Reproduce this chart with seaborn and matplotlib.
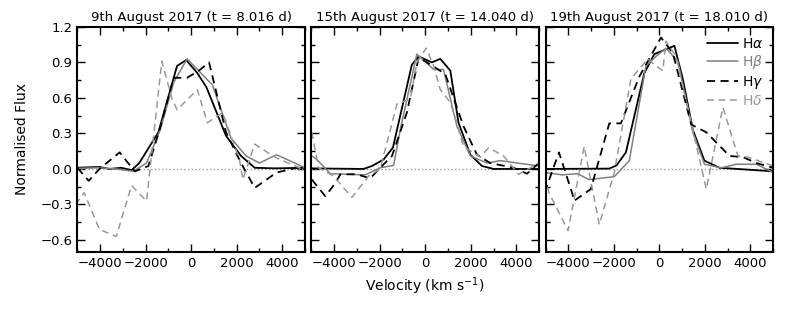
import numpy as np
import pandas as pd
import seaborn as sns
import matplotlib
matplotlib.use('Agg')
import matplotlib.pyplot as plt
from matplotlib.ticker import MultipleLocator

sns.set_style('ticks')
plt.rcParams['font.family'] = ['DejaVu Sans']
plt.rcParams['mathtext.fontset'] = 'dejavusans'
plt.rcParams['text.color'] = 'black'
plt.rcParams['axes.labelcolor'] = 'black'
plt.rcParams['xtick.color'] = 'black'
plt.rcParams['ytick.color'] = 'black'
plt.rcParams['axes.edgecolor'] = 'black'

titles = ['9th August 2017 (t = 8.016 d)',
          '15th August 2017 (t = 14.040 d)',
          '19th August 2017 (t = 18.010 d)']
lines = ['H$\\alpha$', 'H$\\beta$', 'H$\\gamma$', 'H$\\delta$']

# panel 1 : 9th August
p1_ha_v = [-5070, -4030, -3585, -3070, -2620, -2280, -1440, -620, -220, 270, 670, 1530, 2190, 2790, 3670, 5000]
p1_ha_f = [0.01, 0.017, 0.0, 0.01, -0.01, 0.05, 0.31, 0.87, 0.92, 0.81, 0.69, 0.28, 0.11, 0.01, 0.005, 0.01]
p1_hb_v = [-5070, -4030, -3290, -2550, -1960, -1360, -770, -180, 930, 1750, 2410, 3000, 3750, 5000]
p1_hb_f = [0.005, 0.01, 0.0, -0.02, 0.05, 0.33, 0.73, 0.93, 0.71, 0.26, 0.11, 0.05, 0.12, 0.01]
p1_hg_v = [-5000, -4500, -4030, -3140, -2770, -2470, -1880, -1360, -770, -180, 340, 785, 1530, 2190, 2790, 3750, 5000]
p1_hg_f = [0.01, -0.1, 0.0, 0.14, 0.05, -0.02, 0.025, 0.35, 0.77, 0.77, 0.83, 0.90, 0.31, 0.05, -0.16, -0.03, 0.025]
p1_hd_v = [-5070, -4700, -4030, -3290, -2620, -1960, -1290, -840, -620, 270, 710, 1380, 2120, 2270, 2790, 3670, 4860]
p1_hd_f = [-0.30, -0.2, -0.51, -0.57, -0.14, -0.27, 0.91, 0.59, 0.50, 0.67, 0.39, 0.475, 0.08, -0.09, 0.21, 0.1, 0.0]

# panel 2 : 15th August
p2_ha_v = [-4980, -2710, -2340, -1830, -1420, -590, -290, 290, 660, 1100, 1460, 1980, 2490, 3000, 4990]
p2_ha_f = [0.005, 0.0, 0.025, 0.08, 0.18, 0.88, 0.95, 0.90, 0.93, 0.83, 0.39, 0.12, 0.025, 0.0, 0.0]
p2_hb_v = [-4980, -4760, -4170, -2640, -1980, -1390, -1100, -370, 370, 800, 1390, 1980, 2710, 3290, 4990]
p2_hb_f = [0.11, 0.08, -0.04, -0.05, 0.01, 0.03, 0.33, 0.97, 0.84, 0.84, 0.36, 0.11, 0.05, 0.07, 0.025]
p2_hg_v = [-4980, -4390, -3950, -3730, -3000, -2420, -1980, -1460, -810, -290, 70, 290, 880, 1680, 2270, 2850, 3880, 4470, 4990]
p2_hg_f = [-0.09, -0.23, -0.12, -0.045, -0.045, -0.08, 0.01, 0.11, 0.475, 0.94, 0.90, 0.875, 0.80, 0.36, 0.12, 0.05, 0.01, -0.04, 0.05]
p2_hd_v = [-4980, -4690, -4030, -3220, -2490, -1980, -1240, -660, -370, 40, 370, 660, 1100, 1320, 1680, 2420, 2780, 3440, 4100, 4990]
p2_hd_f = [0.31, 0.01, -0.06, -0.24, -0.06, 0.0, 0.55, 0.59, 0.9, 1.02, 0.87, 0.67, 0.56, 0.43, 0.19, 0.1, 0.18, 0.11, -0.045, 0.05]

# panel 3 : 19th August
p3_ha_v = [-5040, -2200, -1880, -1470, -660, -220, 290, 660, 1030, 1470, 1980, 2640, 5000]
p3_ha_f = [0.0, 0.003, 0.03, 0.14, 0.81, 0.97, 1.01, 1.04, 0.76, 0.33, 0.07, 0.01, -0.02]
p3_hb_v = [-5040, -4260, -3600, -3080, -1980, -1320, -590, -150, 290, 810, 1470, 1980, 2720, 3380, 4260, 5000]
p3_hb_f = [-0.03, -0.05, -0.04, -0.09, -0.065, 0.07, 0.87, 0.95, 1.02, 0.91, 0.31, 0.04, 0.01, 0.04, 0.04, -0.03]
p3_hg_v = [-5040, -4410, -3820, -3750, -3010, -2200, -1690, -880, 70, 590, 1400, 2060, 3080, 3670, 4260, 5000]
p3_hg_f = [-0.2, 0.14, -0.21, -0.27, -0.17, 0.385, 0.385, 0.78, 1.11, 0.98, 0.375, 0.31, 0.11, 0.1, 0.05, 0.01]
p3_hd_v = [-5040, -4850, -4010, -3300, -2640, -1980, -1250, -510, -220, 150, 290, 730, 1470, 2060, 2790, 3450, 3890, 5000]
p3_hd_f = [-0.06, -0.2, -0.52, 0.19, -0.47, -0.03, 0.76, 0.93, 0.88, 0.83, 1.08, 0.95, 0.33, -0.17, 0.52, 0.11, 0.1, 0.025]

panels = [
    [(p1_ha_v, p1_ha_f), (p1_hb_v, p1_hb_f), (p1_hg_v, p1_hg_f), (p1_hd_v, p1_hd_f)],
    [(p2_ha_v, p2_ha_f), (p2_hb_v, p2_hb_f), (p2_hg_v, p2_hg_f), (p2_hd_v, p2_hd_f)],
    [(p3_ha_v, p3_ha_f), (p3_hb_v, p3_hb_f), (p3_hg_v, p3_hg_f), (p3_hd_v, p3_hd_f)],
]
colours = ['black', '#808080', 'black', '#999999']
styles = ['-', '-', (0, (4.5, 3)), (0, (4.5, 3))]
widths = [1.3, 1.1, 1.3, 1.1]

fig, axes = plt.subplots(1, 3, figsize=(7.89, 3.16), dpi=100, sharey=True)
fig.subplots_adjust(left=0.098, right=0.98, top=0.915, bottom=0.203, wspace=0.028)

for ax, title, series in zip(axes, titles, panels):
    ax.axhline(0, color='#999999', ls=':', lw=1.0, zorder=1)
    for (v, f), lab, c, ls, lw in zip(series, lines, colours, styles, widths):
        df = pd.DataFrame({'v': v, 'f': f})
        sns.lineplot(data=df, x='v', y='f', ax=ax, color=c, lw=lw, sort=False,
                     label=lab, legend=False)
        ax.lines[-1].set_linestyle(ls)
    ax.set_xlim(-5000, 5000)
    ax.set_ylim(-0.7, 1.2)
    ax.set_title(title, fontsize=9.5, pad=4)
    ax.set_xlabel('')
    ax.set_ylabel('')
    ax.xaxis.set_major_locator(MultipleLocator(2000))
    ax.xaxis.set_minor_locator(MultipleLocator(1000))
    ax.yaxis.set_major_locator(MultipleLocator(0.3))
    ax.yaxis.set_minor_locator(MultipleLocator(0.15))
    ax.tick_params(which='both', direction='in', top=True, right=True, labelsize=9.5)
    ax.tick_params(which='major', length=6, width=1)
    ax.tick_params(which='minor', length=3, width=1)
    for sp in ax.spines.values():
        sp.set_linewidth(1.5)

axes[0].set_ylabel('Normalised Flux', fontsize=10, labelpad=8)
axes[1].set_xlabel('Velocity (km s$^{-1}$)', fontsize=10)

leg = axes[2].legend(loc='upper right', frameon=False, fontsize=10, handlelength=2.2,
                     handletextpad=0.3, labelspacing=0.2, borderaxespad=0.3)
for txt, c in zip(leg.get_texts(), colours):
    txt.set_color(c)

fig.savefig('out.png', dpi=100)
